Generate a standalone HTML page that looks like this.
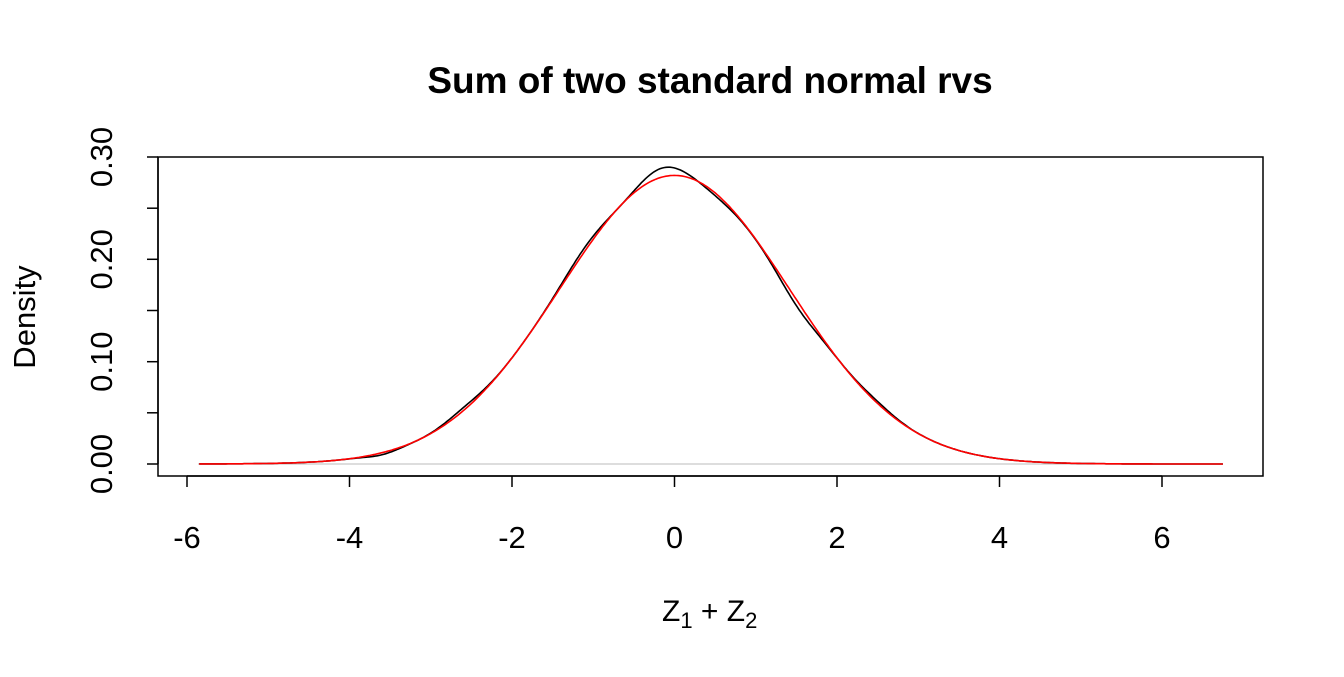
<!DOCTYPE html>
<html><head><meta charset="utf-8"><style>
body{margin:0;background:#fff;}
text{font-family:"Liberation Sans",Arial,sans-serif;}
</style></head><body>
<svg id="s" width="1344" height="672" xmlns="http://www.w3.org/2000/svg">
<text x="710" y="93" font-size="37" font-weight="bold" text-anchor="middle">Sum of two standard normal rvs</text>
<rect x="158" y="157" width="1105" height="319" fill="none" stroke="#000" stroke-width="1.5"/>
<line x1="198" y1="464" x2="1222" y2="464" stroke="#bbb" stroke-width="1"/>
<g stroke="#000" stroke-width="1.5">
<line x1="187" y1="476" x2="1162" y2="476"/>
<line x1="187" y1="476" x2="187" y2="487"/><line x1="349.5" y1="476" x2="349.5" y2="487"/>
<line x1="512" y1="476" x2="512" y2="487"/><line x1="674.5" y1="476" x2="674.5" y2="487"/>
<line x1="837" y1="476" x2="837" y2="487"/><line x1="999.5" y1="476" x2="999.5" y2="487"/>
<line x1="1162" y1="476" x2="1162" y2="487"/>
<line x1="158" y1="157" x2="158" y2="464"/>
<line x1="147" y1="464" x2="158" y2="464"/><line x1="147" y1="412.8" x2="158" y2="412.8"/>
<line x1="147" y1="361.7" x2="158" y2="361.7"/><line x1="147" y1="310.5" x2="158" y2="310.5"/>
<line x1="147" y1="259.3" x2="158" y2="259.3"/><line x1="147" y1="208.2" x2="158" y2="208.2"/>
<line x1="147" y1="157" x2="158" y2="157"/>
</g>
<g font-size="31" text-anchor="middle">
<text x="187" y="548">-6</text><text x="349.5" y="548">-4</text><text x="512" y="548">-2</text>
<text x="674.5" y="548">0</text><text x="837" y="548">2</text><text x="999.5" y="548">4</text><text x="1162" y="548">6</text>
<text transform="translate(112,464) rotate(-90)">0.00</text>
<text transform="translate(112,361.7) rotate(-90)">0.10</text>
<text transform="translate(112,259.3) rotate(-90)">0.20</text>
<text transform="translate(112,157) rotate(-90)">0.30</text>
<text transform="translate(35,317) rotate(-90)">Density</text>
</g>
<text x="662" y="621" font-size="30">Z<tspan font-size="22" dy="7">1</tspan><tspan dy="-7"> + Z</tspan><tspan font-size="22" dy="7">2</tspan></text>
<path id="b" fill="none" stroke="#000" stroke-width="1.6"/>
<path id="r" fill="none" stroke="#f00" stroke-width="1.6"/>
</svg>
<script>
function X(x){return 674.5+x*81.25}function Y(y){return 464-y*1023}
function n(x){return Math.exp(-x*x/4)/(2*Math.sqrt(Math.PI))}
function g(x,m,s,a){return a*Math.exp(-Math.pow((x-m)/s,2))}
function bl(x){return n(x)+g(x,-0.15,0.35,0.009)+g(x,-1.1,0.35,0.004)-g(x,1.5,0.3,0.006)-g(x,0.5,0.3,0.003)+g(x,-2.6,0.3,0.003)-g(x,-3.6,0.25,0.002)+g(x,2.5,0.3,0.002)-g(x,-0.65,0.3,0.002)}
var r="",b="";
for(var i=0;i<=500;i++){var x=-5.85+12.6*i/500;r+=(i?"L":"M")+X(x).toFixed(1)+" "+Y(n(x)).toFixed(1);b+=(i?"L":"M")+X(x).toFixed(1)+" "+Y(bl(x)).toFixed(1);}
document.getElementById("r").setAttribute("d",r);document.getElementById("b").setAttribute("d",b);
</script>
</body></html>
